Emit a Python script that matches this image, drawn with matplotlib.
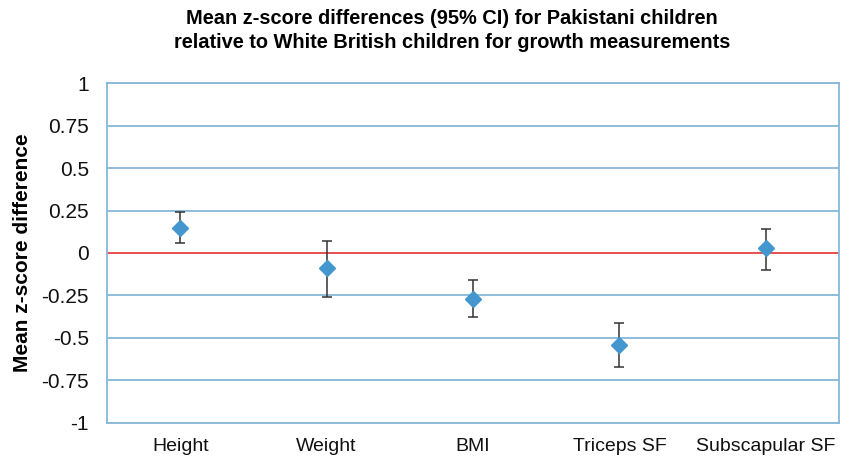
import numpy as np
import matplotlib
matplotlib.use("Agg")
import matplotlib.pyplot as plt

plt.rcParams['font.family'] = ['Liberation Sans', 'DejaVu Sans']

# values
categories = ["Height", "Weight", "BMI", "Triceps SF", "Subscapular SF"]
mean_diff = [0.15, -0.09, -0.27, -0.54, 0.03]
ci_lower = [0.06, -0.26, -0.38, -0.67, -0.10]
ci_upper = [0.24, 0.07, -0.16, -0.41, 0.14]
y_ticks = [-1, -0.75, -0.5, -0.25, 0, 0.25, 0.5, 0.75, 1]
y_tick_labels = ["-1", "-0.75", "-0.5", "-0.25", "0", "0.25", "0.5", "0.75", "1"]

grid_blue = "#86B8D8"
marker_blue = "#4497CE"

fig = plt.figure(figsize=(8.52, 4.58), dpi=100)
ax = fig.add_axes([0.1256, 0.0771, 0.8591, 0.7410])

x = np.arange(len(categories))
mean = np.array(mean_diff)
yerr = [mean - np.array(ci_lower), np.array(ci_upper) - mean]

# gridlines and the zero reference
for yt in y_ticks:
    if yt != 0:
        ax.axhline(yt, color=grid_blue, lw=1.3, zorder=1)
ax.axhline(0, color="#E23232", lw=1.2, zorder=2)

ax.errorbar(x, mean, yerr=yerr, fmt='none', ecolor="#333333", elinewidth=1.1,
            capsize=3.5, capthick=1.1, zorder=3)
ax.plot(x, mean, linestyle='none', marker='D', markersize=8.5,
        color=marker_blue, markeredgecolor=marker_blue, zorder=4)

ax.set_xlim(-0.5, len(categories) - 0.5)
ax.set_ylim(-1, 1)
ax.set_yticks(y_ticks)
ax.set_yticklabels(y_tick_labels)
ax.set_xticks(x)
ax.set_xticklabels(categories)
ax.tick_params(axis='y', length=0, pad=13, labelsize=15, labelcolor="#111111")
ax.tick_params(axis='x', length=0, pad=11, labelsize=14, labelcolor="#111111")

for s in ax.spines.values():
    s.set_color(grid_blue)
    s.set_linewidth(1.3)

ax.set_ylabel("Mean z-score difference", fontsize=15, fontweight='bold')
ax.yaxis.set_label_coords(-0.1025, 0.5)

fig.text(452 / 852, 1 - 19 / 458,
         "Mean z-score differences (95% CI) for Pakistani children",
         ha='center', va='center', fontsize=14.4, fontweight='bold')
fig.text(452 / 852, 1 - 43 / 458,
         "relative to White British children for growth measurements",
         ha='center', va='center', fontsize=14.4, fontweight='bold')

fig.savefig("out.png", dpi=100)
